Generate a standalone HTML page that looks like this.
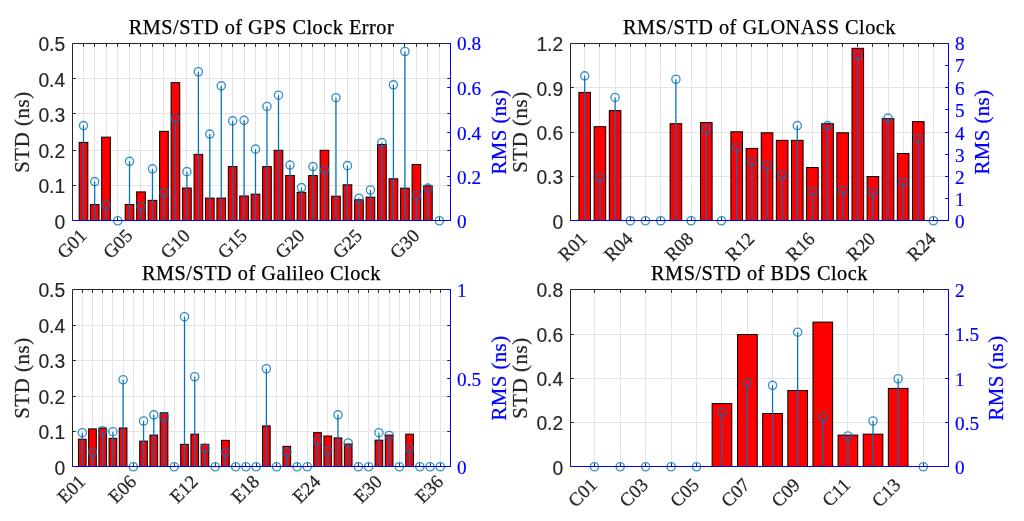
<!DOCTYPE html>
<html lang="en"><head><meta charset="utf-8"><title>RMS/STD of GNSS Clock Error</title>
<style>html,body{margin:0;padding:0;background:#fff}body{width:1024px;height:521px;overflow:hidden}svg{display:block}
.t{font-family:"Liberation Serif","Times New Roman",serif;font-size:20.3px;fill:#000;stroke:#000;stroke-width:0.25px;letter-spacing:0.5px}
.yl{font-family:"Liberation Serif","Times New Roman",serif;font-size:20.8px;fill:#262626;stroke:#262626;stroke-width:0.25px;letter-spacing:0.6px}
.yr{font-family:"Liberation Serif","Times New Roman",serif;font-size:20.8px;fill:#0000ff;stroke:#0000ff;stroke-width:0.25px;letter-spacing:0.45px}
.lt{font-family:"Liberation Sans",Arial,Helvetica,sans-serif;font-size:19.3px;fill:#262626;stroke:#262626;stroke-width:0.15px}
.rt{font-family:"Liberation Serif","Times New Roman",serif;font-size:19.2px;fill:#0000ff;stroke:#0000ff;stroke-width:0.2px}
.xt{font-family:"Liberation Serif","Times New Roman",serif;font-size:18.9px;fill:#262626;stroke:#262626;stroke-width:0.25px}
.g{stroke:#e4e4e4;stroke-width:1;fill:none}
.k{stroke:#262626;stroke-width:1;fill:none}
.b{stroke:#0000ff;stroke-width:1;fill:none}
.bar{fill:#ff0000;stroke:#000;stroke-width:1}
.s{stroke:#0072bd;stroke-width:1.25;fill:none}
.c{stroke:#0072bd;stroke-width:1.35;stroke-opacity:.78;fill:none}
</style></head><body>
<svg width="1024" height="521" viewBox="0 0 1024 521">
<rect width="1024" height="521" fill="#fff"/>
<g>
<path class="g" d="M83.5 43.5V220.5M94.5 43.5V220.5M106.5 43.5V220.5M117.5 43.5V220.5M129.5 43.5V220.5M140.5 43.5V220.5M152.5 43.5V220.5M163.5 43.5V220.5M175.5 43.5V220.5M186.5 43.5V220.5M198.5 43.5V220.5M209.5 43.5V220.5M221.5 43.5V220.5M232.5 43.5V220.5M244.5 43.5V220.5M255.5 43.5V220.5M266.5 43.5V220.5M278.5 43.5V220.5M289.5 43.5V220.5M301.5 43.5V220.5M312.5 43.5V220.5M324.5 43.5V220.5M335.5 43.5V220.5M347.5 43.5V220.5M358.5 43.5V220.5M370.5 43.5V220.5M381.5 43.5V220.5M393.5 43.5V220.5M404.5 43.5V220.5M416.5 43.5V220.5M427.5 43.5V220.5M439.5 43.5V220.5M72.5 185.5H450.5M72.5 150.5H450.5M72.5 113.5H450.5M72.5 78.5H450.5"/>
<rect class="bar" x="79.17" y="142.4" width="8.66" height="78.1"/>
<rect class="bar" x="90.37" y="204.5" width="8.66" height="16"/>
<rect class="bar" x="101.67" y="137.15" width="8.66" height="83.35"/>
<rect class="bar" x="125.17" y="204.5" width="8.66" height="16"/>
<rect class="bar" x="136.65" y="191.9" width="8.66" height="28.6"/>
<rect class="bar" x="148.13" y="200.34" width="8.66" height="20.16"/>
<rect class="bar" x="159.62" y="131.34" width="8.66" height="89.16"/>
<rect class="bar" x="171.1" y="82.65" width="8.66" height="137.85"/>
<rect class="bar" x="182.58" y="188" width="8.66" height="32.5"/>
<rect class="bar" x="194.07" y="154.4" width="8.66" height="66.1"/>
<rect class="bar" x="205.49" y="198.1" width="8.66" height="22.4"/>
<rect class="bar" x="216.91" y="198.1" width="8.66" height="22.4"/>
<rect class="bar" x="228.33" y="166.6" width="8.66" height="53.9"/>
<rect class="bar" x="239.75" y="196" width="8.66" height="24.5"/>
<rect class="bar" x="251.17" y="194.15" width="8.66" height="26.35"/>
<rect class="bar" x="262.66" y="166.6" width="8.66" height="53.9"/>
<rect class="bar" x="274.16" y="150.3" width="8.66" height="70.2"/>
<rect class="bar" x="285.65" y="175.6" width="8.66" height="44.9"/>
<rect class="bar" x="297.14" y="192.3" width="8.66" height="28.2"/>
<rect class="bar" x="308.64" y="175.6" width="8.66" height="44.9"/>
<rect class="bar" x="320.13" y="150.3" width="8.66" height="70.2"/>
<rect class="bar" x="331.62" y="196.2" width="8.66" height="24.3"/>
<rect class="bar" x="343.12" y="184.8" width="8.66" height="35.7"/>
<rect class="bar" x="354.61" y="199.8" width="8.66" height="20.7"/>
<rect class="bar" x="366.11" y="197.15" width="8.66" height="23.35"/>
<rect class="bar" x="377.6" y="144.5" width="8.66" height="76"/>
<rect class="bar" x="389.09" y="178.8" width="8.66" height="41.7"/>
<rect class="bar" x="400.59" y="188.15" width="8.66" height="32.35"/>
<rect class="bar" x="412.08" y="164.5" width="8.66" height="56"/>
<rect class="bar" x="423.57" y="185.9" width="8.66" height="34.6"/>
<path class="k" d="M72.5 43.5H450.5V220.5H72.5ZM83.5 43.5v3.3M83.5 220.5v-3.3M94.5 43.5v3.3M94.5 220.5v-3.3M106.5 43.5v3.3M106.5 220.5v-3.3M117.5 43.5v3.3M117.5 220.5v-3.3M129.5 43.5v3.3M129.5 220.5v-3.3M140.5 43.5v3.3M140.5 220.5v-3.3M152.5 43.5v3.3M152.5 220.5v-3.3M163.5 43.5v3.3M163.5 220.5v-3.3M175.5 43.5v3.3M175.5 220.5v-3.3M186.5 43.5v3.3M186.5 220.5v-3.3M198.5 43.5v3.3M198.5 220.5v-3.3M209.5 43.5v3.3M209.5 220.5v-3.3M221.5 43.5v3.3M221.5 220.5v-3.3M232.5 43.5v3.3M232.5 220.5v-3.3M244.5 43.5v3.3M244.5 220.5v-3.3M255.5 43.5v3.3M255.5 220.5v-3.3M266.5 43.5v3.3M266.5 220.5v-3.3M278.5 43.5v3.3M278.5 220.5v-3.3M289.5 43.5v3.3M289.5 220.5v-3.3M301.5 43.5v3.3M301.5 220.5v-3.3M312.5 43.5v3.3M312.5 220.5v-3.3M324.5 43.5v3.3M324.5 220.5v-3.3M335.5 43.5v3.3M335.5 220.5v-3.3M347.5 43.5v3.3M347.5 220.5v-3.3M358.5 43.5v3.3M358.5 220.5v-3.3M370.5 43.5v3.3M370.5 220.5v-3.3M381.5 43.5v3.3M381.5 220.5v-3.3M393.5 43.5v3.3M393.5 220.5v-3.3M404.5 43.5v3.3M404.5 220.5v-3.3M416.5 43.5v3.3M416.5 220.5v-3.3M427.5 43.5v3.3M427.5 220.5v-3.3M439.5 43.5v3.3M439.5 220.5v-3.3M72.5 185.5h3.3M450.5 185.5h-3.3M72.5 150.5h3.3M450.5 150.5h-3.3M72.5 113.5h3.3M450.5 113.5h-3.3M72.5 78.5h3.3M450.5 78.5h-3.3"/>
<path class="s" d="M83.5 220.5V125.55M94.7 220.5V181.55M106 220.5V205M129.5 220.5V161.35M140.98 220.5V206.69M152.47 220.5V168.85M163.95 220.5V192.65M175.43 220.5V118.65M186.92 220.5V171.65M198.4 220.5V71.75M209.82 220.5V134.05M221.24 220.5V85.85M232.66 220.5V120.85M244.08 220.5V120.35M255.5 220.5V149.15M266.99 220.5V106.45M278.49 220.5V95.15M289.98 220.5V165.05M301.48 220.5V187.55M312.97 220.5V166.55M324.46 220.5V169.75M335.96 220.5V97.65M347.45 220.5V165.65M358.94 220.5V198.25M370.44 220.5V190M381.93 220.5V142.55M393.42 220.5V84.85M404.92 220.5V51.5M416.41 220.5V195.45M427.91 220.5V188.15"/>
<circle class="c" cx="83.5" cy="125.55" r="4.1"/>
<circle class="c" cx="94.7" cy="181.55" r="4.1"/>
<circle class="c" cx="106" cy="205" r="4.1"/>
<circle class="c" cx="117.75" cy="220.75" r="4.1"/>
<circle class="c" cx="129.5" cy="161.35" r="4.1"/>
<circle class="c" cx="140.98" cy="206.69" r="4.1"/>
<circle class="c" cx="152.47" cy="168.85" r="4.1"/>
<circle class="c" cx="163.95" cy="192.65" r="4.1"/>
<circle class="c" cx="175.43" cy="118.65" r="4.1"/>
<circle class="c" cx="186.92" cy="171.65" r="4.1"/>
<circle class="c" cx="198.4" cy="71.75" r="4.1"/>
<circle class="c" cx="209.82" cy="134.05" r="4.1"/>
<circle class="c" cx="221.24" cy="85.85" r="4.1"/>
<circle class="c" cx="232.66" cy="120.85" r="4.1"/>
<circle class="c" cx="244.08" cy="120.35" r="4.1"/>
<circle class="c" cx="255.5" cy="149.15" r="4.1"/>
<circle class="c" cx="266.99" cy="106.45" r="4.1"/>
<circle class="c" cx="278.49" cy="95.15" r="4.1"/>
<circle class="c" cx="289.98" cy="165.05" r="4.1"/>
<circle class="c" cx="301.48" cy="187.55" r="4.1"/>
<circle class="c" cx="312.97" cy="166.55" r="4.1"/>
<circle class="c" cx="324.46" cy="169.75" r="4.1"/>
<circle class="c" cx="335.96" cy="97.65" r="4.1"/>
<circle class="c" cx="347.45" cy="165.65" r="4.1"/>
<circle class="c" cx="358.94" cy="198.25" r="4.1"/>
<circle class="c" cx="370.44" cy="190" r="4.1"/>
<circle class="c" cx="381.93" cy="142.55" r="4.1"/>
<circle class="c" cx="393.42" cy="84.85" r="4.1"/>
<circle class="c" cx="404.92" cy="51.5" r="4.1"/>
<circle class="c" cx="416.41" cy="195.45" r="4.1"/>
<circle class="c" cx="427.91" cy="188.15" r="4.1"/>
<circle class="c" cx="439.4" cy="220.75" r="4.1"/>
<path class="b" d="M72.5 220.5H450.5V43.5M450.5 220.5h-3.3M450.5 176.5h-3.3M450.5 132.5h-3.3M450.5 87.5h-3.3M450.5 43.5h-3.3"/>
<text class="t" x="261.5" y="33.8" text-anchor="middle">RMS/STD of GPS Clock Error</text>
<text class="lt" x="65.2" y="228.8" text-anchor="end">0</text>
<text class="lt" x="65.2" y="193.27" text-anchor="end">0.1</text>
<text class="lt" x="65.2" y="157.74" text-anchor="end">0.2</text>
<text class="lt" x="65.2" y="122.21" text-anchor="end">0.3</text>
<text class="lt" x="65.2" y="86.68" text-anchor="end">0.4</text>
<text class="lt" x="65.2" y="51.15" text-anchor="end">0.5</text>
<text class="rt" x="457.1" y="228.1">0</text>
<text class="rt" x="457.1" y="183.85">0.2</text>
<text class="rt" x="457.1" y="139.6">0.4</text>
<text class="rt" x="457.1" y="94.55">0.6</text>
<text class="rt" x="457.1" y="50.3">0.8</text>
<text class="yl" transform="translate(29.2 132) rotate(-90)" text-anchor="middle">STD (ns)</text>
<text class="yr" transform="translate(506.3 132) rotate(-90)" text-anchor="middle">RMS (ns)</text>
<text class="xt" transform="translate(87.7 236.8) rotate(-45)" text-anchor="end">G01</text>
<text class="xt" transform="translate(133.7 236.8) rotate(-45)" text-anchor="end">G05</text>
<text class="xt" transform="translate(191.12 236.8) rotate(-45)" text-anchor="end">G10</text>
<text class="xt" transform="translate(248.28 236.8) rotate(-45)" text-anchor="end">G15</text>
<text class="xt" transform="translate(305.68 236.8) rotate(-45)" text-anchor="end">G20</text>
<text class="xt" transform="translate(363.14 236.8) rotate(-45)" text-anchor="end">G25</text>
<text class="xt" transform="translate(420.61 236.8) rotate(-45)" text-anchor="end">G30</text>
</g>
<g>
<path class="g" d="M584.5 43.5V220.5M599.5 43.5V220.5M615.5 43.5V220.5M630.5 43.5V220.5M645.5 43.5V220.5M660.5 43.5V220.5M675.5 43.5V220.5M691.5 43.5V220.5M706.5 43.5V220.5M721.5 43.5V220.5M736.5 43.5V220.5M751.5 43.5V220.5M767.5 43.5V220.5M782.5 43.5V220.5M797.5 43.5V220.5M812.5 43.5V220.5M827.5 43.5V220.5M842.5 43.5V220.5M857.5 43.5V220.5M872.5 43.5V220.5M888.5 43.5V220.5M903.5 43.5V220.5M918.5 43.5V220.5M933.5 43.5V220.5M570.5 176.5H948.5M570.5 132.5H948.5M570.5 87.5H948.5"/>
<rect class="bar" x="578.9" y="92.4" width="11.6" height="128.1"/>
<rect class="bar" x="594.1" y="126.7" width="11.6" height="93.8"/>
<rect class="bar" x="609.3" y="110.6" width="11.6" height="109.9"/>
<rect class="bar" x="670.1" y="123.7" width="11.6" height="96.8"/>
<rect class="bar" x="700.5" y="122.6" width="11.6" height="97.9"/>
<rect class="bar" x="730.9" y="131.8" width="11.6" height="88.7"/>
<rect class="bar" x="746.1" y="148.4" width="11.6" height="72.1"/>
<rect class="bar" x="761.23" y="132.8" width="11.6" height="87.7"/>
<rect class="bar" x="776.35" y="140.34" width="11.6" height="80.16"/>
<rect class="bar" x="791.48" y="140.34" width="11.6" height="80.16"/>
<rect class="bar" x="806.6" y="167.5" width="11.6" height="53"/>
<rect class="bar" x="821.73" y="123.7" width="11.6" height="96.8"/>
<rect class="bar" x="836.85" y="132.8" width="11.6" height="87.7"/>
<rect class="bar" x="851.98" y="48.3" width="11.6" height="172.2"/>
<rect class="bar" x="867.1" y="176.5" width="11.6" height="44"/>
<rect class="bar" x="882.23" y="118.65" width="11.6" height="101.85"/>
<rect class="bar" x="897.35" y="153.5" width="11.6" height="67"/>
<rect class="bar" x="912.48" y="121.65" width="11.6" height="98.85"/>
<path class="k" d="M570.5 43.5H948.5V220.5H570.5ZM584.5 43.5v3.3M584.5 220.5v-3.3M599.5 43.5v3.3M599.5 220.5v-3.3M615.5 43.5v3.3M615.5 220.5v-3.3M630.5 43.5v3.3M630.5 220.5v-3.3M645.5 43.5v3.3M645.5 220.5v-3.3M660.5 43.5v3.3M660.5 220.5v-3.3M675.5 43.5v3.3M675.5 220.5v-3.3M691.5 43.5v3.3M691.5 220.5v-3.3M706.5 43.5v3.3M706.5 220.5v-3.3M721.5 43.5v3.3M721.5 220.5v-3.3M736.5 43.5v3.3M736.5 220.5v-3.3M751.5 43.5v3.3M751.5 220.5v-3.3M767.5 43.5v3.3M767.5 220.5v-3.3M782.5 43.5v3.3M782.5 220.5v-3.3M797.5 43.5v3.3M797.5 220.5v-3.3M812.5 43.5v3.3M812.5 220.5v-3.3M827.5 43.5v3.3M827.5 220.5v-3.3M842.5 43.5v3.3M842.5 220.5v-3.3M857.5 43.5v3.3M857.5 220.5v-3.3M872.5 43.5v3.3M872.5 220.5v-3.3M888.5 43.5v3.3M888.5 220.5v-3.3M903.5 43.5v3.3M903.5 220.5v-3.3M918.5 43.5v3.3M918.5 220.5v-3.3M933.5 43.5v3.3M933.5 220.5v-3.3M570.5 176.5h3.3M948.5 176.5h-3.3M570.5 132.5h3.3M948.5 132.5h-3.3M570.5 87.5h3.3M948.5 87.5h-3.3"/>
<path class="s" d="M584.7 220.5V75.85M599.9 220.5V177.25M615.1 220.5V97.45M675.9 220.5V79.25M706.3 220.5V129.65M736.7 220.5V147.65M751.9 220.5V161.69M767.02 220.5V165.65M782.15 220.5V175M797.27 220.5V125.55M812.4 220.5V191.69M827.52 220.5V125.55M842.65 220.5V190.35M857.77 220.5V55.65M872.9 220.5V192.25M888.02 220.5V118.05M903.15 220.5V182.35M918.27 220.5V138.45"/>
<circle class="c" cx="584.7" cy="75.85" r="4.1"/>
<circle class="c" cx="599.9" cy="177.25" r="4.1"/>
<circle class="c" cx="615.1" cy="97.45" r="4.1"/>
<circle class="c" cx="630.3" cy="220.75" r="4.1"/>
<circle class="c" cx="645.5" cy="220.75" r="4.1"/>
<circle class="c" cx="660.7" cy="220.75" r="4.1"/>
<circle class="c" cx="675.9" cy="79.25" r="4.1"/>
<circle class="c" cx="691.1" cy="220.75" r="4.1"/>
<circle class="c" cx="706.3" cy="129.65" r="4.1"/>
<circle class="c" cx="721.5" cy="220.75" r="4.1"/>
<circle class="c" cx="736.7" cy="147.65" r="4.1"/>
<circle class="c" cx="751.9" cy="161.69" r="4.1"/>
<circle class="c" cx="767.02" cy="165.65" r="4.1"/>
<circle class="c" cx="782.15" cy="175" r="4.1"/>
<circle class="c" cx="797.27" cy="125.55" r="4.1"/>
<circle class="c" cx="812.4" cy="191.69" r="4.1"/>
<circle class="c" cx="827.52" cy="125.55" r="4.1"/>
<circle class="c" cx="842.65" cy="190.35" r="4.1"/>
<circle class="c" cx="857.77" cy="55.65" r="4.1"/>
<circle class="c" cx="872.9" cy="192.25" r="4.1"/>
<circle class="c" cx="888.02" cy="118.05" r="4.1"/>
<circle class="c" cx="903.15" cy="182.35" r="4.1"/>
<circle class="c" cx="918.27" cy="138.45" r="4.1"/>
<circle class="c" cx="933.4" cy="220.75" r="4.1"/>
<path class="b" d="M570.5 220.5H948.5V43.5M948.5 220.5h-3.3M948.5 198.5h-3.3M948.5 176.5h-3.3M948.5 154.5h-3.3M948.5 132.5h-3.3M948.5 109.5h-3.3M948.5 87.5h-3.3M948.5 65.5h-3.3M948.5 43.5h-3.3"/>
<text class="t" x="759.5" y="33.8" text-anchor="middle">RMS/STD of GLONASS Clock</text>
<text class="lt" x="563.2" y="228.8" text-anchor="end">0</text>
<text class="lt" x="563.2" y="184.39" text-anchor="end">0.3</text>
<text class="lt" x="563.2" y="139.97" text-anchor="end">0.6</text>
<text class="lt" x="563.2" y="95.56" text-anchor="end">0.9</text>
<text class="lt" x="563.2" y="51.15" text-anchor="end">1.2</text>
<text class="rt" x="955.1" y="228.1">0</text>
<text class="rt" x="955.1" y="205.97">1</text>
<text class="rt" x="955.1" y="183.85">2</text>
<text class="rt" x="955.1" y="161.72">3</text>
<text class="rt" x="955.1" y="139.6">4</text>
<text class="rt" x="955.1" y="116.67">5</text>
<text class="rt" x="955.1" y="94.55">6</text>
<text class="rt" x="955.1" y="72.42">7</text>
<text class="rt" x="955.1" y="50.3">8</text>
<text class="yl" transform="translate(527.2 132) rotate(-90)" text-anchor="middle">STD (ns)</text>
<text class="yr" transform="translate(989.1 132) rotate(-90)" text-anchor="middle">RMS (ns)</text>
<text class="xt" transform="translate(588.3 240) rotate(-45)" text-anchor="end">R01</text>
<text class="xt" transform="translate(633.9 240) rotate(-45)" text-anchor="end">R04</text>
<text class="xt" transform="translate(694.7 240) rotate(-45)" text-anchor="end">R08</text>
<text class="xt" transform="translate(755.5 240) rotate(-45)" text-anchor="end">R12</text>
<text class="xt" transform="translate(816 240) rotate(-45)" text-anchor="end">R16</text>
<text class="xt" transform="translate(876.5 240) rotate(-45)" text-anchor="end">R20</text>
<text class="xt" transform="translate(937 240) rotate(-45)" text-anchor="end">R24</text>
</g>
<g>
<path class="g" d="M82.5 289.5V466.5M92.5 289.5V466.5M102.5 289.5V466.5M112.5 289.5V466.5M123.5 289.5V466.5M133.5 289.5V466.5M143.5 289.5V466.5M153.5 289.5V466.5M164.5 289.5V466.5M174.5 289.5V466.5M184.5 289.5V466.5M194.5 289.5V466.5M204.5 289.5V466.5M215.5 289.5V466.5M225.5 289.5V466.5M235.5 289.5V466.5M245.5 289.5V466.5M256.5 289.5V466.5M266.5 289.5V466.5M276.5 289.5V466.5M286.5 289.5V466.5M297.5 289.5V466.5M307.5 289.5V466.5M317.5 289.5V466.5M327.5 289.5V466.5M337.5 289.5V466.5M348.5 289.5V466.5M358.5 289.5V466.5M368.5 289.5V466.5M378.5 289.5V466.5M389.5 289.5V466.5M399.5 289.5V466.5M409.5 289.5V466.5M419.5 289.5V466.5M430.5 289.5V466.5M440.5 289.5V466.5M72.5 431.5H450.5M72.5 396.5H450.5M72.5 360.5H450.5M72.5 325.5H450.5"/>
<rect class="bar" x="78.46" y="439.2" width="7.67" height="27.3"/>
<rect class="bar" x="88.66" y="428.9" width="7.67" height="37.6"/>
<rect class="bar" x="98.86" y="428.15" width="7.67" height="38.35"/>
<rect class="bar" x="109.06" y="438.3" width="7.67" height="28.2"/>
<rect class="bar" x="119.26" y="428" width="7.67" height="38.5"/>
<rect class="bar" x="139.73" y="441.1" width="7.67" height="25.4"/>
<rect class="bar" x="149.96" y="435.1" width="7.67" height="31.4"/>
<rect class="bar" x="160.19" y="412.8" width="7.67" height="53.7"/>
<rect class="bar" x="180.66" y="444.3" width="7.67" height="22.2"/>
<rect class="bar" x="190.89" y="434.15" width="7.67" height="32.35"/>
<rect class="bar" x="201.12" y="444.3" width="7.67" height="22.2"/>
<rect class="bar" x="221.59" y="440.34" width="7.67" height="26.16"/>
<rect class="bar" x="262.52" y="425.9" width="7.67" height="40.6"/>
<rect class="bar" x="282.98" y="446.34" width="7.67" height="20.16"/>
<rect class="bar" x="313.68" y="432.65" width="7.67" height="33.85"/>
<rect class="bar" x="323.91" y="436" width="7.67" height="30.5"/>
<rect class="bar" x="334.14" y="437.9" width="7.67" height="28.6"/>
<rect class="bar" x="344.37" y="444.1" width="7.67" height="22.4"/>
<rect class="bar" x="375.07" y="440.15" width="7.67" height="26.35"/>
<rect class="bar" x="385.3" y="435.1" width="7.67" height="31.4"/>
<rect class="bar" x="405.77" y="434.15" width="7.67" height="32.35"/>
<path class="k" d="M72.5 289.5H450.5V466.5H72.5ZM82.5 289.5v3.3M82.5 466.5v-3.3M92.5 289.5v3.3M92.5 466.5v-3.3M102.5 289.5v3.3M102.5 466.5v-3.3M112.5 289.5v3.3M112.5 466.5v-3.3M123.5 289.5v3.3M123.5 466.5v-3.3M133.5 289.5v3.3M133.5 466.5v-3.3M143.5 289.5v3.3M143.5 466.5v-3.3M153.5 289.5v3.3M153.5 466.5v-3.3M164.5 289.5v3.3M164.5 466.5v-3.3M174.5 289.5v3.3M174.5 466.5v-3.3M184.5 289.5v3.3M184.5 466.5v-3.3M194.5 289.5v3.3M194.5 466.5v-3.3M204.5 289.5v3.3M204.5 466.5v-3.3M215.5 289.5v3.3M215.5 466.5v-3.3M225.5 289.5v3.3M225.5 466.5v-3.3M235.5 289.5v3.3M235.5 466.5v-3.3M245.5 289.5v3.3M245.5 466.5v-3.3M256.5 289.5v3.3M256.5 466.5v-3.3M266.5 289.5v3.3M266.5 466.5v-3.3M276.5 289.5v3.3M276.5 466.5v-3.3M286.5 289.5v3.3M286.5 466.5v-3.3M297.5 289.5v3.3M297.5 466.5v-3.3M307.5 289.5v3.3M307.5 466.5v-3.3M317.5 289.5v3.3M317.5 466.5v-3.3M327.5 289.5v3.3M327.5 466.5v-3.3M337.5 289.5v3.3M337.5 466.5v-3.3M348.5 289.5v3.3M348.5 466.5v-3.3M358.5 289.5v3.3M358.5 466.5v-3.3M368.5 289.5v3.3M368.5 466.5v-3.3M378.5 289.5v3.3M378.5 466.5v-3.3M389.5 289.5v3.3M389.5 466.5v-3.3M399.5 289.5v3.3M399.5 466.5v-3.3M409.5 289.5v3.3M409.5 466.5v-3.3M419.5 289.5v3.3M419.5 466.5v-3.3M430.5 289.5v3.3M430.5 466.5v-3.3M440.5 289.5v3.3M440.5 466.5v-3.3M72.5 431.5h3.3M450.5 431.5h-3.3M72.5 396.5h3.3M450.5 396.5h-3.3M72.5 360.5h3.3M450.5 360.5h-3.3M72.5 325.5h3.3M450.5 325.5h-3.3"/>
<path class="s" d="M82.3 466.5V432.65M92.5 466.5V452.35M102.7 466.5V430.75M112.9 466.5V431.69M123.1 466.5V379.75M143.56 466.5V421M153.8 466.5V414.85M164.03 466.5V417.25M184.49 466.5V316.65M194.73 466.5V376.75M204.96 466.5V448.15M225.42 466.5V452.35M266.35 466.5V368.75M286.82 466.5V452.35M317.51 466.5V440.69M327.75 466.5V450.45M337.98 466.5V414.85M348.21 466.5V442.95M378.91 466.5V432.65M389.14 466.5V435.45M409.6 466.5V448.55"/>
<circle class="c" cx="82.3" cy="432.65" r="4.1"/>
<circle class="c" cx="92.5" cy="452.35" r="4.1"/>
<circle class="c" cx="102.7" cy="430.75" r="4.1"/>
<circle class="c" cx="112.9" cy="431.69" r="4.1"/>
<circle class="c" cx="123.1" cy="379.75" r="4.1"/>
<circle class="c" cx="133.33" cy="466.75" r="4.1"/>
<circle class="c" cx="143.56" cy="421" r="4.1"/>
<circle class="c" cx="153.8" cy="414.85" r="4.1"/>
<circle class="c" cx="164.03" cy="417.25" r="4.1"/>
<circle class="c" cx="174.26" cy="466.75" r="4.1"/>
<circle class="c" cx="184.49" cy="316.65" r="4.1"/>
<circle class="c" cx="194.73" cy="376.75" r="4.1"/>
<circle class="c" cx="204.96" cy="448.15" r="4.1"/>
<circle class="c" cx="215.19" cy="466.75" r="4.1"/>
<circle class="c" cx="225.42" cy="452.35" r="4.1"/>
<circle class="c" cx="235.65" cy="466.75" r="4.1"/>
<circle class="c" cx="245.89" cy="466.75" r="4.1"/>
<circle class="c" cx="256.12" cy="466.75" r="4.1"/>
<circle class="c" cx="266.35" cy="368.75" r="4.1"/>
<circle class="c" cx="276.58" cy="466.75" r="4.1"/>
<circle class="c" cx="286.82" cy="452.35" r="4.1"/>
<circle class="c" cx="297.05" cy="466.75" r="4.1"/>
<circle class="c" cx="307.28" cy="466.75" r="4.1"/>
<circle class="c" cx="317.51" cy="440.69" r="4.1"/>
<circle class="c" cx="327.75" cy="450.45" r="4.1"/>
<circle class="c" cx="337.98" cy="414.85" r="4.1"/>
<circle class="c" cx="348.21" cy="442.95" r="4.1"/>
<circle class="c" cx="358.44" cy="466.75" r="4.1"/>
<circle class="c" cx="368.67" cy="466.75" r="4.1"/>
<circle class="c" cx="378.91" cy="432.65" r="4.1"/>
<circle class="c" cx="389.14" cy="435.45" r="4.1"/>
<circle class="c" cx="399.37" cy="466.75" r="4.1"/>
<circle class="c" cx="409.6" cy="448.55" r="4.1"/>
<circle class="c" cx="419.84" cy="466.75" r="4.1"/>
<circle class="c" cx="430.07" cy="466.75" r="4.1"/>
<circle class="c" cx="440.3" cy="466.75" r="4.1"/>
<path class="b" d="M72.5 466.5H450.5V289.5M450.5 466.5h-3.3M450.5 378.5h-3.3M450.5 289.5h-3.3"/>
<text class="t" x="261.5" y="279.8" text-anchor="middle">RMS/STD of Galileo Clock</text>
<text class="lt" x="65.2" y="474.8" text-anchor="end">0</text>
<text class="lt" x="65.2" y="439.27" text-anchor="end">0.1</text>
<text class="lt" x="65.2" y="403.74" text-anchor="end">0.2</text>
<text class="lt" x="65.2" y="368.21" text-anchor="end">0.3</text>
<text class="lt" x="65.2" y="332.68" text-anchor="end">0.4</text>
<text class="lt" x="65.2" y="297.15" text-anchor="end">0.5</text>
<text class="rt" x="457.1" y="474.1">0</text>
<text class="rt" x="457.1" y="385.6">0.5</text>
<text class="rt" x="457.1" y="297.1">1</text>
<text class="yl" transform="translate(29.2 378) rotate(-90)" text-anchor="middle">STD (ns)</text>
<text class="yr" transform="translate(505.8 378) rotate(-90)" text-anchor="middle">RMS (ns)</text>
<text class="xt" transform="translate(86.5 482.8) rotate(-45)" text-anchor="end">E01</text>
<text class="xt" transform="translate(137.53 482.8) rotate(-45)" text-anchor="end">E06</text>
<text class="xt" transform="translate(198.93 482.8) rotate(-45)" text-anchor="end">E12</text>
<text class="xt" transform="translate(260.32 482.8) rotate(-45)" text-anchor="end">E18</text>
<text class="xt" transform="translate(321.71 482.8) rotate(-45)" text-anchor="end">E24</text>
<text class="xt" transform="translate(383.11 482.8) rotate(-45)" text-anchor="end">E30</text>
<text class="xt" transform="translate(444.5 482.8) rotate(-45)" text-anchor="end">E36</text>
</g>
<g>
<path class="g" d="M594.5 289.5V466.5M620.5 289.5V466.5M645.5 289.5V466.5M671.5 289.5V466.5M696.5 289.5V466.5M721.5 289.5V466.5M747.5 289.5V466.5M772.5 289.5V466.5M797.5 289.5V466.5M822.5 289.5V466.5M847.5 289.5V466.5M873.5 289.5V466.5M898.5 289.5V466.5M923.5 289.5V466.5M570.5 422.5H948.5M570.5 378.5H948.5M570.5 334.5H948.5"/>
<rect class="bar" x="712.13" y="403.6" width="19.66" height="62.9"/>
<rect class="bar" x="737.57" y="334.5" width="19.66" height="132"/>
<rect class="bar" x="762.7" y="413.5" width="19.66" height="53"/>
<rect class="bar" x="787.83" y="390.5" width="19.66" height="76"/>
<rect class="bar" x="812.96" y="322.1" width="19.66" height="144.4"/>
<rect class="bar" x="838.08" y="435.1" width="19.66" height="31.4"/>
<rect class="bar" x="863.21" y="434.15" width="19.66" height="32.35"/>
<rect class="bar" x="888.34" y="388.4" width="19.66" height="78.1"/>
<path class="k" d="M570.5 289.5H948.5V466.5H570.5ZM594.5 289.5v3.3M594.5 466.5v-3.3M620.5 289.5v3.3M620.5 466.5v-3.3M645.5 289.5v3.3M645.5 466.5v-3.3M671.5 289.5v3.3M671.5 466.5v-3.3M696.5 289.5v3.3M696.5 466.5v-3.3M721.5 289.5v3.3M721.5 466.5v-3.3M747.5 289.5v3.3M747.5 466.5v-3.3M772.5 289.5v3.3M772.5 466.5v-3.3M797.5 289.5v3.3M797.5 466.5v-3.3M822.5 289.5v3.3M822.5 466.5v-3.3M847.5 289.5v3.3M847.5 466.5v-3.3M873.5 289.5v3.3M873.5 466.5v-3.3M898.5 289.5v3.3M898.5 466.5v-3.3M923.5 289.5v3.3M923.5 466.5v-3.3M570.5 422.5h3.3M948.5 422.5h-3.3M570.5 378.5h3.3M948.5 378.5h-3.3M570.5 334.5h3.3M948.5 334.5h-3.3"/>
<path class="s" d="M721.96 466.5V412.35M747.4 466.5V382.95M772.53 466.5V385.35M797.66 466.5V332.15M822.79 466.5V417.25M847.91 466.5V436M873.04 466.5V421M898.17 466.5V378.75"/>
<circle class="c" cx="594.5" cy="466.75" r="4.1"/>
<circle class="c" cx="620.2" cy="466.75" r="4.1"/>
<circle class="c" cx="645.64" cy="466.75" r="4.1"/>
<circle class="c" cx="671.08" cy="466.75" r="4.1"/>
<circle class="c" cx="696.52" cy="466.75" r="4.1"/>
<circle class="c" cx="721.96" cy="412.35" r="4.1"/>
<circle class="c" cx="747.4" cy="382.95" r="4.1"/>
<circle class="c" cx="772.53" cy="385.35" r="4.1"/>
<circle class="c" cx="797.66" cy="332.15" r="4.1"/>
<circle class="c" cx="822.79" cy="417.25" r="4.1"/>
<circle class="c" cx="847.91" cy="436" r="4.1"/>
<circle class="c" cx="873.04" cy="421" r="4.1"/>
<circle class="c" cx="898.17" cy="378.75" r="4.1"/>
<circle class="c" cx="923.3" cy="466.75" r="4.1"/>
<path class="b" d="M570.5 466.5H948.5V289.5M948.5 466.5h-3.3M948.5 422.5h-3.3M948.5 378.5h-3.3M948.5 334.5h-3.3M948.5 289.5h-3.3"/>
<text class="t" x="759.5" y="279.8" text-anchor="middle">RMS/STD of BDS Clock</text>
<text class="lt" x="563.2" y="474.8" text-anchor="end">0</text>
<text class="lt" x="563.2" y="430.39" text-anchor="end">0.2</text>
<text class="lt" x="563.2" y="385.97" text-anchor="end">0.4</text>
<text class="lt" x="563.2" y="341.56" text-anchor="end">0.6</text>
<text class="lt" x="563.2" y="297.15" text-anchor="end">0.8</text>
<text class="rt" x="955.1" y="474.1">0</text>
<text class="rt" x="955.1" y="429.85">0.5</text>
<text class="rt" x="955.1" y="385.6">1</text>
<text class="rt" x="955.1" y="341.35">1.5</text>
<text class="rt" x="955.1" y="297.1">2</text>
<text class="yl" transform="translate(527.2 378) rotate(-90)" text-anchor="middle">STD (ns)</text>
<text class="yr" transform="translate(1003.3 378) rotate(-90)" text-anchor="middle">RMS (ns)</text>
<text class="xt" transform="translate(598.1 486) rotate(-45)" text-anchor="end">C01</text>
<text class="xt" transform="translate(649.24 486) rotate(-45)" text-anchor="end">C03</text>
<text class="xt" transform="translate(700.12 486) rotate(-45)" text-anchor="end">C05</text>
<text class="xt" transform="translate(751 486) rotate(-45)" text-anchor="end">C07</text>
<text class="xt" transform="translate(801.26 486) rotate(-45)" text-anchor="end">C09</text>
<text class="xt" transform="translate(851.51 486) rotate(-45)" text-anchor="end">C11</text>
<text class="xt" transform="translate(901.77 486) rotate(-45)" text-anchor="end">C13</text>
</g>
</svg></body></html>
